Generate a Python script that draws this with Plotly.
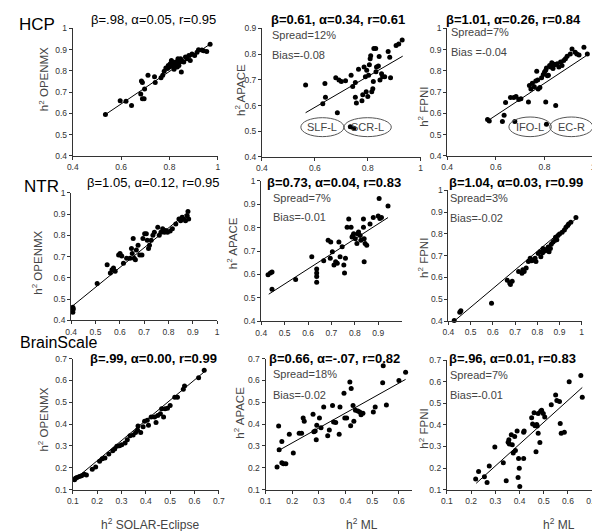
import plotly.graph_objects as go

W, H = 600, 531
FONT = "Arial, Liberation Sans, sans-serif"

# ---------------- data ----------------
# HCP
p1_x = [0.535,0.596,0.62,0.643,0.684,0.688,0.681,0.688,0.695,0.697,0.711,0.738,0.741,0.765,0.772,0.778,0.785,0.792,0.795,0.799,0.803,0.805,0.808,0.812,0.816,0.819,0.822,0.826,0.832,0.835,0.839,0.839,0.846,0.849,0.853,0.859,0.866,0.873,0.88,0.886,0.893,0.904,0.914,0.92,0.934,0.941,0.954,0.968]
p1_y = [0.595,0.66,0.657,0.637,0.752,0.745,0.691,0.669,0.669,0.715,0.78,0.772,0.745,0.768,0.78,0.798,0.814,0.811,0.826,0.818,0.834,0.826,0.849,0.842,0.818,0.808,0.829,0.842,0.818,0.857,0.842,0.826,0.857,0.795,0.845,0.842,0.865,0.857,0.872,0.849,0.88,0.872,0.888,0.90,0.898,0.895,0.891,0.926]
p1_fit_x = [0.535, 0.973]
p1_fit_y = [0.595, 0.93]

p2_x = [0.565,0.63,0.638,0.64,0.685,0.679,0.691,0.70,0.716,0.737,0.743,0.753,0.765,0.753,0.757,0.778,0.781,0.786,0.791,0.794,0.80,0.803,0.806,0.809,0.811,0.815,0.819,0.821,0.823,0.83,0.831,0.833,0.84,0.843,0.846,0.852,0.856,0.864,0.877,0.883,0.886,0.907,0.917,0.93,0.734,0.747,0.796]
p2_y = [0.68,0.607,0.686,0.632,0.572,0.708,0.699,0.693,0.696,0.718,0.674,0.69,0.741,0.632,0.61,0.619,0.642,0.75,0.712,0.654,0.635,0.718,0.759,0.782,0.794,0.654,0.665,0.693,0.822,0.822,0.731,0.75,0.754,0.791,0.699,0.724,0.712,0.712,0.81,0.788,0.708,0.833,0.839,0.855,0.517,0.512,0.737]
p2_fit_x = [0.565, 0.932]
p2_fit_y = [0.572, 0.792]

p3_x = [0.566,0.573,0.627,0.634,0.64,0.66,0.674,0.683,0.694,0.703,0.678,0.734,0.738,0.744,0.75,0.758,0.764,0.772,0.774,0.781,0.805,0.788,0.795,0.80,0.805,0.808,0.812,0.816,0.821,0.826,0.83,0.835,0.839,0.844,0.846,0.852,0.859,0.866,0.872,0.879,0.886,0.893,0.906,0.913,0.926,0.933,0.942,0.962,0.976,0.808,0.768]
p3_y = [0.572,0.565,0.562,0.592,0.652,0.675,0.675,0.68,0.665,0.669,0.562,0.654,0.731,0.715,0.742,0.726,0.752,0.757,0.715,0.722,0.654,0.768,0.783,0.795,0.803,0.814,0.777,0.78,0.826,0.818,0.838,0.811,0.831,0.829,0.637,0.834,0.818,0.842,0.826,0.849,0.857,0.869,0.88,0.903,0.888,0.88,0.875,0.911,0.88,0.549,0.798]
p3_fit_x = [0.566, 0.976]
p3_fit_y = [0.565, 0.875]

# NTR
p4_x = [0.407,0.407,0.409,0.507,0.548,0.561,0.568,0.574,0.581,0.595,0.601,0.608,0.615,0.628,0.642,0.648,0.651,0.655,0.659,0.664,0.668,0.675,0.682,0.691,0.695,0.702,0.709,0.713,0.718,0.722,0.729,0.736,0.742,0.756,0.762,0.769,0.776,0.783,0.789,0.796,0.807,0.816,0.83,0.843,0.85,0.856,0.863,0.87,0.877,0.883,0.88]
p4_y = [0.462,0.438,0.454,0.574,0.662,0.623,0.638,0.646,0.631,0.708,0.715,0.703,0.669,0.692,0.692,0.738,0.715,0.785,0.692,0.685,0.731,0.754,0.708,0.708,0.785,0.808,0.808,0.777,0.738,0.754,0.777,0.80,0.815,0.838,0.80,0.815,0.831,0.815,0.823,0.815,0.82,0.831,0.854,0.877,0.869,0.885,0.877,0.869,0.892,0.877,0.912]
p4_fit_x = [0.407, 0.883]
p4_fit_y = [0.469, 0.912]

p5_x = [0.429,0.439,0.446,0.446,0.547,0.616,0.637,0.637,0.637,0.637,0.667,0.686,0.697,0.695,0.704,0.711,0.718,0.725,0.732,0.737,0.746,0.753,0.756,0.76,0.767,0.774,0.784,0.788,0.792,0.795,0.802,0.809,0.812,0.816,0.823,0.826,0.837,0.837,0.84,0.84,0.844,0.851,0.865,0.879,0.90,0.904,0.907,0.914,0.942]
p5_y = [0.599,0.606,0.611,0.537,0.579,0.676,0.623,0.606,0.592,0.567,0.659,0.746,0.739,0.669,0.697,0.641,0.655,0.648,0.739,0.676,0.718,0.641,0.606,0.669,0.802,0.837,0.802,0.76,0.767,0.774,0.753,0.732,0.774,0.781,0.767,0.746,0.837,0.802,0.753,0.655,0.732,0.725,0.816,0.843,0.85,0.924,0.839,0.843,0.892]
p5_fit_x = [0.432, 0.942]
p5_fit_y = [0.516, 0.843]

p6_x = [0.426,0.451,0.456,0.594,0.665,0.676,0.679,0.687,0.716,0.731,0.735,0.741,0.75,0.76,0.768,0.775,0.782,0.79,0.794,0.804,0.812,0.816,0.824,0.826,0.834,0.841,0.849,0.853,0.859,0.863,0.871,0.878,0.882,0.888,0.893,0.90,0.912,0.922,0.929,0.937,0.941,0.951,0.974]
p6_y = [0.403,0.44,0.448,0.482,0.587,0.575,0.568,0.583,0.628,0.62,0.635,0.628,0.643,0.673,0.688,0.677,0.68,0.688,0.673,0.71,0.718,0.695,0.713,0.733,0.722,0.728,0.74,0.718,0.733,0.752,0.763,0.77,0.785,0.773,0.793,0.80,0.808,0.818,0.83,0.838,0.845,0.853,0.875]
p6_fit_x = [0.426, 0.976]
p6_fit_y = [0.40, 0.871]

# BrainScale
p7_x = [0.107,0.111,0.117,0.127,0.136,0.147,0.156,0.18,0.194,0.21,0.221,0.232,0.248,0.264,0.272,0.281,0.292,0.301,0.315,0.324,0.335,0.348,0.358,0.366,0.368,0.379,0.389,0.395,0.406,0.411,0.422,0.436,0.442,0.449,0.46,0.465,0.473,0.479,0.489,0.50,0.519,0.53,0.554,0.559,0.617,0.64]
p7_y = [0.145,0.152,0.155,0.16,0.163,0.17,0.167,0.193,0.203,0.23,0.241,0.245,0.263,0.278,0.286,0.298,0.301,0.305,0.313,0.328,0.347,0.35,0.362,0.373,0.391,0.362,0.388,0.413,0.418,0.395,0.433,0.433,0.407,0.44,0.448,0.47,0.433,0.47,0.473,0.485,0.523,0.523,0.56,0.575,0.613,0.647]
p7_fit_x = [0.104, 0.644]
p7_fit_y = [0.143, 0.643]

p8_x = [0.143,0.149,0.151,0.161,0.161,0.167,0.176,0.189,0.204,0.226,0.235,0.241,0.245,0.278,0.281,0.286,0.29,0.292,0.302,0.308,0.318,0.333,0.339,0.351,0.355,0.363,0.376,0.379,0.394,0.397,0.404,0.416,0.419,0.421,0.428,0.431,0.437,0.446,0.453,0.458,0.465,0.504,0.511,0.539,0.541,0.553,0.60,0.625]
p8_y = [0.203,0.391,0.283,0.32,0.223,0.218,0.218,0.353,0.268,0.358,0.358,0.428,0.413,0.445,0.365,0.368,0.328,0.395,0.428,0.383,0.478,0.347,0.373,0.485,0.41,0.407,0.353,0.478,0.542,0.428,0.428,0.593,0.392,0.563,0.485,0.413,0.463,0.46,0.455,0.443,0.45,0.455,0.478,0.59,0.668,0.488,0.60,0.638]
p8_fit_x = [0.143, 0.625]
p8_fit_y = [0.275, 0.605]

p9_x = [0.219,0.231,0.255,0.266,0.275,0.298,0.333,0.345,0.353,0.356,0.358,0.366,0.37,0.374,0.38,0.383,0.39,0.394,0.396,0.399,0.401,0.417,0.417,0.419,0.45,0.454,0.46,0.464,0.468,0.471,0.473,0.477,0.477,0.484,0.487,0.491,0.498,0.504,0.531,0.549,0.554,0.565,0.568,0.572,0.585,0.605,0.653,0.659]
p9_y = [0.149,0.184,0.159,0.133,0.209,0.298,0.225,0.141,0.32,0.331,0.311,0.354,0.308,0.27,0.346,0.281,0.372,0.156,0.244,0.199,0.114,0.244,0.366,0.372,0.433,0.404,0.457,0.396,0.275,0.402,0.395,0.361,0.453,0.319,0.463,0.468,0.453,0.437,0.494,0.539,0.513,0.509,0.407,0.361,0.366,0.60,0.63,0.529]
p9_fit_x = [0.221, 0.659]
p9_fit_y = [0.129, 0.574]

# tick values
ticks_a = [0.4, 0.6, 0.8, 1.0]
ticks_b = [0.4, 0.5, 0.6, 0.7, 0.8, 0.9, 1.0]
ticks_c = [0.4, 0.5, 0.6, 0.7, 0.8, 0.9]
ticks_d = [0.1, 0.2, 0.3, 0.4, 0.5, 0.6, 0.7]
ticks_e = [0.1, 0.2, 0.3, 0.4, 0.5, 0.6]

titles = ["β=.98, α=0.05, r=0.95", "β=0.61, α=0.34, r=0.61", "β=1.01, α=0.26, r=0.84",
          "β=1.05, α=0.12, r=0.95", "β=0.73, α=0.04, r=0.83", "β=1.04, α=0.03, r=0.99",
          "β=.99, α=0.00, r=0.99", "β=0.66, α=-.07, r=0.82", "β=.96, α=0.01, r=0.83"]
ytitles = ["OPENMX", "APACE", "FPNI"] * 3
row_labels = ["HCP", "NTR", "BrainScale"]
spreads = [None, "Spread=12%", "Spread=7%", None, "Spread=7%", "Spread=3%", None, "Spread=18%", "Spread=7%"]
biases = [None, "Bias=-0.08", "Bias =-0.04", None, "Bias=-0.01", "Bias=-0.02", None, "Bias=-0.02", "Bias=-0.01"]

# ---------------- layout geometry (pixels) ----------------
panels = [
    dict(x=p1_x, y=p1_y, fx=p1_fit_x, fy=p1_fit_y, xr=(0.4, 1.0), yr=(0.4, 1.0), xpx=(60, 208), ypx=(145.7, 15.7), xt=ticks_a, yt=ticks_b),
    dict(x=p2_x, y=p2_y, fx=p2_fit_x, fy=p2_fit_y, xr=(0.4, 1.0), yr=(0.4, 0.9), xpx=(253, 415), ypx=(146.7, 15.7), xt=ticks_a, yt=ticks_c),
    dict(x=p3_x, y=p3_y, fx=p3_fit_x, fy=p3_fit_y, xr=(0.4, 1.0), yr=(0.4, 1.0), xpx=(442, 591), ypx=(145.7, 15.7), xt=ticks_a, yt=ticks_b),
    dict(x=p4_x, y=p4_y, fx=p4_fit_x, fy=p4_fit_y, xr=(0.4, 1.0), yr=(0.4, 1.0), xpx=(58.3, 207.3), ypx=(313.3, 183.3), xt=ticks_b, yt=ticks_b),
    dict(x=p5_x, y=p5_y, fx=p5_fit_x, fy=p5_fit_y, xr=(0.4, 1.0), yr=(0.4, 1.0), xpx=(252.3, 395.5), ypx=(314.3, 171), xt=ticks_c, yt=ticks_b),
    dict(x=p6_x, y=p6_y, fx=p6_fit_x, fy=p6_fit_y, xr=(0.4, 1.0), yr=(0.4, 1.0), xpx=(443.3, 579.3), ypx=(314, 180.7), xt=ticks_b, yt=ticks_b),
    dict(x=p7_x, y=p7_y, fx=p7_fit_x, fy=p7_fit_y, xr=(0.1, 0.7), yr=(0.1, 0.7), xpx=(60, 209), ypx=(485.7, 352.3), xt=ticks_d, yt=ticks_d),
    dict(x=p8_x, y=p8_y, fx=p8_fit_x, fy=p8_fit_y, xr=(0.1, 0.65), yr=(0.1, 0.7), xpx=(256.7, 406.4), ypx=(485.7, 352.3), xt=ticks_e, yt=ticks_d),
    dict(x=p9_x, y=p9_y, fx=p9_fit_x, fy=p9_fit_y, xr=(0.1, 0.7), yr=(0.1, 0.7), xpx=(441.7, 590), ypx=(485.7, 354), xt=ticks_d, yt=ticks_d),
]
title_pos = [(142, 7), (331, 7), (510, 7), (142, 173), (327, 173), (512, 173), (142, 352), (327, 352), (509, 352)]
ytitle_pos = [(30, 67), (230, 78), (418, 96), (24, 255), (222, 235), (418, 250), (30, 414), (230, 407), (418, 424)]
note_pos = [None, (261, 22, 43), (444, 19, 40), None, (262, 189, 208), (443, 189, 209), None, (262, 368, 389), (443, 369, 389)]
row_pos = [(3, 12), (8, 177), (4, 336)]
row_size = [17, 17, 16]
bold = [False, True, True, False, True, True, True, True, True]


def fx(px):
    return px / W


def fy(py):
    return 1 - py / H


fig = go.Figure()
layout = dict(width=W, height=H, margin=dict(l=0, r=0, t=0, b=0), showlegend=False,
              plot_bgcolor="white", paper_bgcolor="white", font=dict(family=FONT, color="#333"))
annotations = []
shapes = []

for i, p in enumerate(panels):
    n = i + 1
    xa = "x" if n == 1 else f"x{n}"
    ya = "y" if n == 1 else f"y{n}"
    fig.add_trace(go.Scatter(x=p["x"], y=p["y"], mode="markers", xaxis=xa, yaxis=ya,
                             marker=dict(size=5, color="black"), cliponaxis=False))
    fig.add_trace(go.Scatter(x=p["fx"], y=p["fy"], mode="lines", xaxis=xa, yaxis=ya,
                             line=dict(color="black", width=1)))
    common = dict(showgrid=False, zeroline=False, showline=True, linecolor="#333", linewidth=1,
                  ticks="outside", ticklen=3, tickcolor="#333", tickfont=dict(size=8.5, color="#333"))
    layout["xaxis" if n == 1 else f"xaxis{n}"] = dict(
        domain=[fx(p["xpx"][0]), fx(p["xpx"][1])], range=list(p["xr"]), anchor=ya,
        tickvals=p["xt"], ticktext=[f"{v:g}" for v in p["xt"]], **common)
    layout["yaxis" if n == 1 else f"yaxis{n}"] = dict(
        domain=[fy(p["ypx"][0]), fy(p["ypx"][1])], range=list(p["yr"]), anchor=xa,
        tickvals=p["yt"], ticktext=[f"{v:g}" for v in p["yt"]], **common)

    t = titles[i]
    annotations.append(dict(text=f"<b>{t}</b>" if bold[i] else t, x=fx(title_pos[i][0]), y=fy(title_pos[i][1]),
                            xref="paper", yref="paper", showarrow=False, xanchor="center", yanchor="middle",
                            font=dict(size=13, color="black")))
    annotations.append(dict(text=f"h<sup>2</sup> {ytitles[i]}", x=fx(ytitle_pos[i][0]), y=fy(ytitle_pos[i][1]),
                            xref="paper", yref="paper", showarrow=False, textangle=-90,
                            xanchor="center", yanchor="middle", font=dict(size=11.5, color="#444")))
    if spreads[i]:
        xl, y1, y2 = note_pos[i]
        annotations.append(dict(text=spreads[i], x=fx(xl), y=fy(y1), xref="paper", yref="paper", showarrow=False,
                                xanchor="left", yanchor="middle", font=dict(size=11, color="#444")))
        annotations.append(dict(text=biases[i], x=fx(xl), y=fy(y2), xref="paper", yref="paper", showarrow=False,
                                xanchor="left", yanchor="middle", font=dict(size=11, color="#444")))

for lab, (px, py), sz in zip(row_labels, row_pos, row_size):
    annotations.append(dict(text=lab, x=fx(px), y=fy(py), xref="paper", yref="paper", showarrow=False,
                            xanchor="left", yanchor="middle", font=dict(size=sz, color="black")))

# x axis titles
for txt, (px, py) in zip(["h<sup>2</sup> SOLAR-Eclipse", "h<sup>2</sup> ML", "h<sup>2</sup> ML"],
                         [(139, 521), (355, 521), (556, 521)]):
    annotations.append(dict(text=txt, x=fx(px), y=fy(py), xref="paper", yref="paper", showarrow=False,
                            xanchor="center", yanchor="middle", font=dict(size=12, color="#444")))

# ellipse labels (outlier regions)
ellipses = [("SLF-L", 292.7, 336.7, 106.7, 126), ("SCR-L", 336.7, 385, 106.7, 126),
            ("IFO-L", 505, 548.3, 106, 126), ("EC-R", 546.7, 590.7, 106, 126)]
for lab, x0, x1, y0, y1 in ellipses:
    shapes.append(dict(type="circle", xref="paper", yref="paper", x0=fx(x0), x1=fx(x1), y0=fy(y1), y1=fy(y0),
                       line=dict(color="#555", width=1)))
    annotations.append(dict(text=lab, x=fx((x0 + x1) / 2), y=fy((y0 + y1) / 2), xref="paper", yref="paper",
                            showarrow=False, xanchor="center", yanchor="middle", font=dict(size=11, color="#444")))

layout["annotations"] = annotations
layout["shapes"] = shapes
fig.update_layout(**layout)
fig.write_html("out.html")
